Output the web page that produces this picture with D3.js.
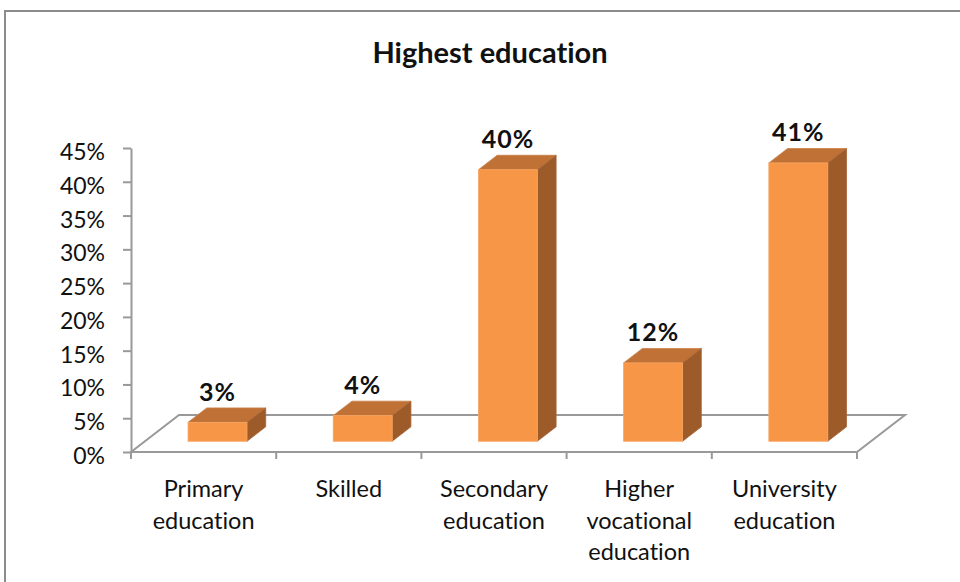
<!DOCTYPE html>
<html>
<head>
<meta charset="utf-8">
<script src="https://cdn.jsdelivr.net/npm/d3@7"></script>
<style>
  body { margin: 0; background: #fff; }
  text { font-family: Lato, "Open Sans", sans-serif; fill: #111; font-variant-ligatures: none; font-feature-settings: "liga" 0; }
</style>
</head>
<body>
<script>
// Data van de grafiek
const categories = ["Primary education", "Skilled", "Secondary education", "Higher vocational education", "University education"];
const values = [0.028, 0.038, 0.402, 0.116, 0.412];
const yTicks = [0, 0.05, 0.10, 0.15, 0.20, 0.25, 0.30, 0.35, 0.40, 0.45];
const title = "Highest education";

const width = 960, height = 582;

const svg = d3.select("body").append("svg")
  .attr("width", width)
  .attr("height", height);

// Kader rond de grafiek
svg.append("rect")
  .attr("x", 5).attr("y", 11)
  .attr("width", 975).attr("height", 600)
  .attr("fill", "#fff")
  .attr("stroke", "#8c8c8c")
  .attr("stroke-width", 2);

// Schalen
const x = d3.scaleBand().domain(categories).range([131, 857]).padding(0);
const y = d3.scaleLinear().domain([0, 0.45]).range([452, 148]);

// 3D diepte (schuine projectie)
const depth = { dx: 48, dy: -37 };
const barFront = 0.29, barBack = 0.68;
const barWidth = x.bandwidth() * 0.406;

// Titel
svg.append("text")
  .attr("x", 490).attr("y", 63)
  .attr("text-anchor", "middle")
  .style("font-weight", "bold")
  .style("font-size", "29px")
  .text(title);

// Vloer
const x0 = x.range()[0], x1 = x.range()[1], y0 = y(0);
svg.append("path")
  .attr("d", `M${x0},${y0} L${x0 + depth.dx},${y0 + depth.dy} L${x1 + depth.dx},${y0 + depth.dy} L${x1},${y0} Z`)
  .attr("fill", "none")
  .attr("stroke", "#999")
  .attr("stroke-width", 2);

// Y-as
const yAxis = svg.append("g")
  .attr("transform", `translate(${x0},0)`)
  .call(d3.axisLeft(y).tickValues(yTicks).tickFormat(d3.format(".0%")).tickSize(8).tickSizeOuter(0).tickPadding(18));
yAxis.selectAll("path, line").attr("stroke", "#999").attr("stroke-width", 2);
yAxis.selectAll("text")
  .attr("dy", "0.5em")
  .style("font-size", "23px")
  .style("font-family", "Lato, sans-serif")
  .attr("fill", "#1a1a1a");

// X-as streepjes op de grenzen van de categorieen
const bounds = categories.map(c => x(c)).concat([x1]);
svg.append("g").selectAll("line")
  .data(bounds)
  .join("line")
  .attr("x1", d => d).attr("x2", d => d)
  .attr("y1", y0).attr("y2", y0 + 7)
  .attr("stroke", "#999")
  .attr("stroke-width", 2);

// Categorie labels, elk woord op een eigen regel
svg.append("g").selectAll("text")
  .data(categories)
  .join("text")
  .attr("text-anchor", "middle")
  .style("font-size", "23.5px")
  .attr("fill", "#1a1a1a")
  .each(function (d) {
    const cx = x(d) + x.bandwidth() / 2;
    d3.select(this).selectAll("tspan")
      .data(d.split(" "))
      .join("tspan")
      .attr("x", cx)
      .attr("y", (w, i) => 497 + i * 31.5)
      .text(w => w);
  });

// Balken
const bars = svg.append("g").selectAll("g")
  .data(categories.map((c, i) => ({ cat: c, value: values[i] })))
  .join("g");

const fdx = depth.dx * barFront, fdy = depth.dy * barFront;
const sdx = depth.dx * (barBack - barFront), sdy = depth.dy * (barBack - barFront);

function geo(d) {
  const left = x(d.cat) + (x.bandwidth() - barWidth) / 2 + fdx;
  const right = left + barWidth;
  const top = y(d.value) + fdy;
  const bottom = y(0) + fdy;
  return { left, right, top, bottom };
}

// Bovenkant
bars.append("path")
  .attr("d", d => {
    const g = geo(d);
    return `M${g.left},${g.top} L${g.left + sdx},${g.top + sdy} L${g.right + sdx},${g.top + sdy} L${g.right},${g.top} Z`;
  })
  .attr("fill", "#bf7136")
  .attr("stroke", "#c98048")
  .attr("stroke-width", 0.8);

// Zijkant
bars.append("path")
  .attr("d", d => {
    const g = geo(d);
    return `M${g.right},${g.top} L${g.right + sdx},${g.top + sdy} L${g.right + sdx},${g.bottom + sdy} L${g.right},${g.bottom} Z`;
  })
  .attr("fill", "#9c5b29")
  .attr("stroke", "#a8653a")
  .attr("stroke-width", 0.8);

// Voorkant
bars.append("rect")
  .attr("x", d => geo(d).left)
  .attr("y", d => geo(d).top)
  .attr("width", barWidth)
  .attr("height", d => geo(d).bottom - geo(d).top)
  .attr("fill", "#f79646")
  .attr("stroke", "#f8a462")
  .attr("stroke-width", 0.8);

// Waarde labels
bars.append("text")
  .attr("x", d => geo(d).left + barWidth / 2)
  .attr("y", d => geo(d).top - 21.5)
  .attr("text-anchor", "middle")
  .style("font-weight", "bold")
  .style("font-size", "25px")
  .style("letter-spacing", "1px")
  .text(d => d3.format(".0%")(d.value));
</script>
</body>
</html>
